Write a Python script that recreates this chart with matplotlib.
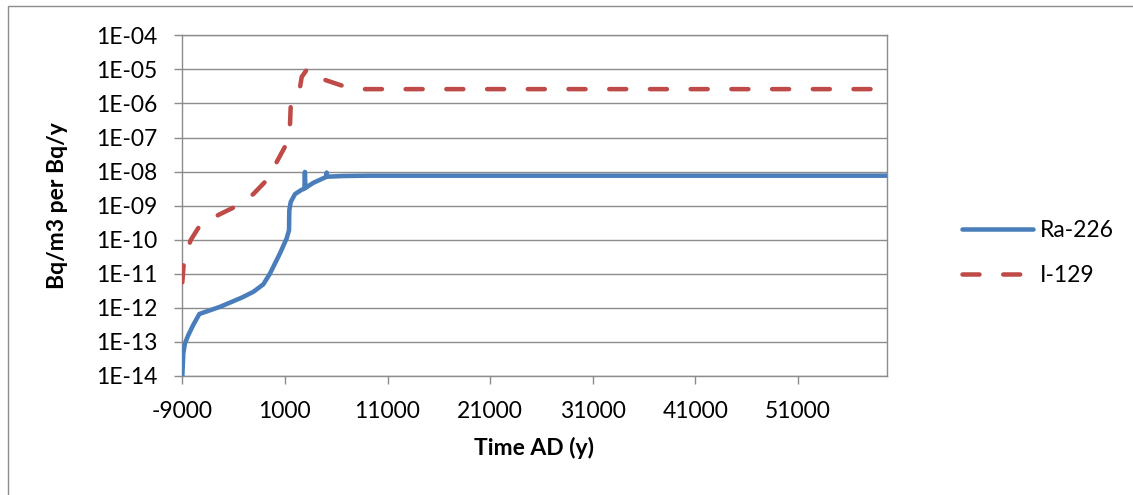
import matplotlib
matplotlib.use("Agg")
import matplotlib.pyplot as plt
from matplotlib.patches import Rectangle
from matplotlib.ticker import FixedLocator, FixedFormatter

plt.rcParams['font.family'] = ['Lato', 'DejaVu Sans']

# ---- data ----
ra_years = [-9000, -8900, -8740, -8415, -7930, -7340, -5330, -3210, -2080, -1105,
            -450, 520, 1175, 1400, 1430, 1570, 1985, 2600, 2900, 2950, 3000,
            3770, 5000, 5070, 5140, 6690, 9290, 20000, 40000, 59700]
ra_log = [-14.0, -13.33, -13.04, -12.80, -12.50, -12.18, -11.97, -11.70, -11.53, -11.31,
          -10.99, -10.40, -9.96, -9.72, -9.13, -8.89, -8.66, -8.54, -8.50, -8.01, -8.48,
          -8.33, -8.16, -8.03, -8.15, -8.13, -8.12, -8.12, -8.12, -8.12]

i_years = [-9000, -8835, -8180, -7200, -5330, -3700, -2080, -770, 200, 1110,
           1500, 1570, 2370, 2640, 3200, 4910, 6690, 8640, 20000, 40000, 59700]
i_log = [-11.25, -10.60, -10.01, -9.54, -9.25, -9.01, -8.66, -8.25, -7.72, -7.21,
         -6.59, -6.05, -5.71, -5.22, -4.98, -5.31, -5.49, -5.58, -5.58, -5.58, -5.58]

series_names = ["Ra-226", "I-129"]
x_ticks = [-9000, 1000, 11000, 21000, 31000, 41000, 51000]
y_exponents = list(range(-14, -3))
y_tick_labels = [f"1E-{abs(k):02d}" for k in y_exponents]

ra_vals = [10 ** v for v in ra_log]
i_vals = [10 ** v for v in i_log]

W, H = 1133, 495
fig = plt.figure(figsize=(W / 100, H / 100), dpi=100)
fig.patch.set_facecolor('white')

# outer chart border (right and bottom edges lie outside the picture)
fig.patches.append(Rectangle((8 / W, -0.2), 1.2, 0.2 + (1 - 6 / H),
                             transform=fig.transFigure, fill=False,
                             edgecolor='#8c8c8c', lw=1.0))

L, R, T, B = 182.3, 886.7, 35.3, 376.0
ax = fig.add_axes([L / W, 1 - B / H, (R - L) / W, (B - T) / H])

blue = '#4a7ebb'
red = '#be4b48'
lw = 3.25
ax.plot(ra_years, ra_vals, color=blue, lw=lw, solid_capstyle='round',
        solid_joinstyle='round', label=series_names[0], zorder=3)
ax.plot(i_years, i_vals, color=red, lw=lw, linestyle=(0, (3.76, 5.26)),
        dash_capstyle='round', dash_joinstyle='round', label=series_names[1], zorder=3)

ax.set_yscale('log')
ax.set_xlim(-9000, 59650)
ax.set_ylim(1e-14, 1e-4)

ax.xaxis.set_major_locator(FixedLocator(x_ticks))
ax.xaxis.set_major_formatter(FixedFormatter([str(v) for v in x_ticks]))
ax.yaxis.set_major_locator(FixedLocator([10.0 ** k for k in y_exponents]))
ax.yaxis.set_major_formatter(FixedFormatter(y_tick_labels))
ax.yaxis.set_minor_locator(FixedLocator([]))

FS = 16.5
grid_c = '#8c8c8c'
ax.grid(axis='y', which='major', color=grid_c, lw=1.0, zorder=0)
for s in ax.spines.values():
    s.set_color(grid_c)
    s.set_linewidth(1.0)
ax.tick_params(axis='both', which='major', direction='out', length=6, width=1.0,
               color=grid_c, labelsize=FS, labelcolor='black')
ax.tick_params(axis='x', pad=12)
ax.tick_params(axis='y', pad=12)

ax.set_xlabel("Time AD (y)", fontsize=FS, fontweight='bold')
ax.set_ylabel("Bq/m3 per Bq/y", fontsize=FS, fontweight='bold')
ax.xaxis.set_label_coords(0.5, -0.18)
ax.yaxis.set_label_coords(-0.162, 0.5)

ax.legend(loc='center left', bbox_to_anchor=(962 / W, 1 - 253 / H),
          bbox_transform=fig.transFigure, frameon=False, fontsize=FS,
          handlelength=3.1, handletextpad=0.3, labelspacing=1.08,
          borderpad=0, borderaxespad=0)

fig.savefig("out.png", dpi=100)
